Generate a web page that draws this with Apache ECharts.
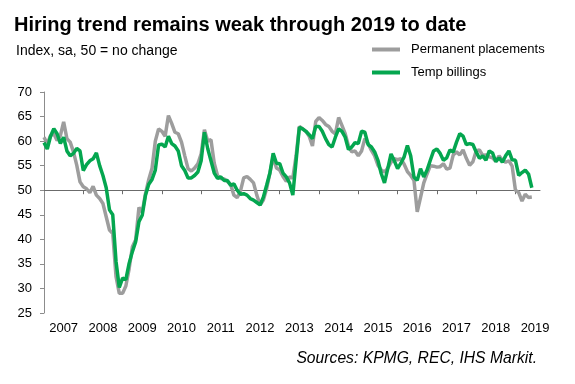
<!DOCTYPE html>
<html>
<head>
<meta charset="utf-8">
<script src="https://cdn.jsdelivr.net/npm/echarts@6/dist/echarts.min.js"></script>
<style>
html,body{margin:0;padding:0;background:#fff;}
#c{width:575px;height:384px;}
</style>
</head>
<body>
<div id="c"></div>
<script>
// Monthly data, Jan 2007 .. Jun 2019
const yearLabels = ['2007','2008','2009','2010','2011','2012','2013','2014','2015','2016','2017','2018','2019'];

const permanentPlacements = [
  // 2007
  60.8, 59.5, 61.1, 61.5, 60.1, 61.1, 63.9, 60.5, 59.8, 57.8, 55.1, 51.7,
  // 2008
  50.7, 50.3, 49.5, 50.8, 49.0, 48.3, 47.3, 44.6, 41.9, 41.2, 32.4, 29.0,
  // 2009
  29.0, 30.5, 34.0, 38.5, 39.9, 46.5, 45.5, 49.3, 52.2, 54.5, 60.0, 62.5,
  // 2010
  62.0, 61.0, 65.2, 63.6, 61.8, 61.5, 59.8, 57.0, 54.4, 53.9, 54.5, 55.4,
  // 2011
  57.4, 62.3, 60.0, 60.3, 55.5, 53.0, 52.4, 52.3, 51.8, 51.2, 49.0, 48.5,
  // 2012
  49.8, 52.5, 52.8, 52.2, 51.5, 49.0, 47.0, 48.0, 50.3, 53.5, 56.8, 54.5,
  // 2013
  54.1, 52.8, 51.8, 52.7, 52.5, 57.0, 63.0, 62.5, 62.0, 61.0, 59.0, 64.0,
  // 2014
  64.8, 64.2, 63.4, 63.0, 62.0, 61.5, 64.8, 63.2, 61.5, 59.0, 57.8, 58.0,
  // 2015
  57.0, 58.0, 60.5, 59.5, 58.1, 57.0, 55.1, 54.1, 53.7, 54.5, 55.7, 56.4,
  // 2016
  56.2, 56.4, 55.3, 53.8, 53.0, 52.0, 45.6, 48.5, 51.5, 53.3, 55.0, 54.9,
  // 2017
  54.7, 54.8, 55.4, 54.3, 54.5, 57.2, 57.8, 57.2, 58.2, 56.5, 55.1, 55.8,
  // 2018
  58.0, 58.2, 57.1, 57.2, 56.8, 56.6, 55.9, 57.0, 56.1, 55.7, 56.0, 54.9,
  // 2019
  50.0, 49.5, 47.8, 49.2, 48.5, 48.6
];

const tempBillings = [
  // 2007
  59.7, 58.4, 61.0, 62.5, 61.5, 59.5, 60.8, 58.0, 57.0, 57.5, 58.5, 58.0,
  // 2008
  54.0, 55.2, 56.0, 56.4, 57.6, 55.0, 53.0, 50.5, 46.0, 45.0, 35.5, 30.2,
  // 2009
  32.1, 31.8, 35.1, 37.5, 39.5, 43.6, 44.9, 49.0, 51.2, 52.2, 54.1, 59.2,
  // 2010
  59.4, 58.8, 61.0, 59.5, 59.0, 58.0, 55.0, 54.0, 52.5, 52.5, 53.0, 53.7,
  // 2011
  56.0, 61.8, 58.5, 56.0, 53.5, 52.4, 52.7, 52.0, 52.0, 51.0, 51.3, 50.0,
  // 2012
  49.2, 49.3, 49.0, 48.3, 48.0, 47.5, 47.0, 48.6, 51.0, 53.5, 57.5, 55.5,
  // 2013
  55.4, 53.5, 52.7, 51.5, 49.0, 56.0, 62.8, 62.5, 62.0, 61.3, 60.5, 63.0,
  // 2014
  63.0, 62.0, 60.5, 59.3, 58.8, 60.8, 62.5, 62.0, 60.8, 58.3, 58.8, 59.7,
  // 2015
  59.5, 62.0, 61.8, 59.3, 58.8, 57.8, 56.1, 53.4, 51.5, 54.4, 57.4, 56.0,
  // 2016
  54.4, 55.5, 56.8, 59.1, 57.0, 52.7, 52.0, 54.4, 52.7, 54.1, 56.1, 58.0,
  // 2017
  58.4, 57.5, 56.1, 56.6, 58.2, 57.8, 59.8, 61.5, 61.0, 59.3, 59.5, 59.3,
  // 2018
  57.8, 56.5, 57.0, 56.1, 58.0, 57.6, 55.8, 56.6, 55.7, 57.0, 58.0, 56.2,
  // 2019
  56.1, 53.0, 53.6, 54.1, 53.3, 50.5
];

const yTicks = { min: 25, max: 70, step: 5 };
const baseline = 50;

const FONT = "'Liberation Sans', Arial, sans-serif";
const xMax = 151.5;
const gridTop = 92, gridBottom = 71;
const gridH = 384 - gridTop - gridBottom;
const baseOffset = -gridH * (baseline - yTicks.min) / (yTicks.max - yTicks.min);

const chart = echarts.init(document.getElementById('c'), null, { renderer: 'canvas' });
chart.setOption({
  animation: false,
  backgroundColor: '#fff',
  textStyle: { fontFamily: FONT },
  title: [
    { text: 'Hiring trend remains weak through 2019 to date', left: 9, top: 10,
      textStyle: { fontFamily: FONT, fontSize: 20, fontWeight: 'bold', color: '#000' } },
    { text: 'Index, sa, 50 = no change', left: 11, top: 39,
      textStyle: { fontFamily: FONT, fontSize: 14, fontWeight: 'normal', color: '#000' } },
    { text: 'Sources: KPMG, REC, IHS Markit.', right: 33, top: 346,
      textStyle: { fontFamily: FONT, fontSize: 15.7, fontWeight: 'normal', fontStyle: 'italic', color: '#000' } }
  ],
  legend: {
    orient: 'vertical', left: 372, top: 43, itemGap: 10, padding: 0,
    itemWidth: 28, itemHeight: 4, icon: 'rect',
    textStyle: { fontFamily: FONT, fontSize: 13, color: '#000', padding: [0, 0, 0, 6] },
    data: ['Permanent placements', 'Temp billings']
  },
  grid: { left: 44, right: 35, top: gridTop, bottom: gridBottom, containLabel: false },
  xAxis: [
    { type: 'value', min: 0, max: xMax, position: 'bottom',
      axisLine: { show: false }, axisTick: { show: false }, splitLine: { show: false },
      axisLabel: { show: true, customValues: yearLabels.map((y, k) => k * 12 + 6),
        formatter: v => yearLabels[Math.round((v - 6) / 12)],
        fontFamily: FONT, fontSize: 13, color: '#000', margin: 9 } },
    { type: 'value', min: 0, max: xMax, position: 'bottom', offset: baseOffset,
      axisLine: { show: true, onZero: false, lineStyle: { color: '#6b6b6b', width: 1 } },
      axisTick: { show: true, customValues: yearLabels.slice(1).map((y, k) => (k + 1) * 12), length: 4,
        lineStyle: { color: '#6b6b6b', width: 1 } },
      axisLabel: { show: false }, splitLine: { show: false } }
  ],
  yAxis: {
    type: 'value', min: yTicks.min, max: yTicks.max, interval: yTicks.step,
    axisLine: { show: true, lineStyle: { color: '#8c8c8c', width: 1 } },
    axisTick: { show: true, length: 4, lineStyle: { color: '#8c8c8c' } },
    axisLabel: { fontFamily: FONT, fontSize: 13, color: '#000', margin: 12 },
    splitLine: { show: false }
  },
  series: [
    { name: 'Permanent placements', type: 'line', xAxisIndex: 0, showSymbol: false, symbol: 'none',
      color: '#9d9d9d', lineStyle: { color: '#9d9d9d', width: 3.5 }, z: 2,
      data: permanentPlacements.map((v, i) => [i, v]) },
    { name: 'Temp billings', type: 'line', xAxisIndex: 0, showSymbol: false, symbol: 'none',
      color: '#04a64f', lineStyle: { color: '#04a64f', width: 3.5 }, z: 3,
      data: tempBillings.map((v, i) => [i, v]) }
  ]
});
</script>
</body>
</html>
